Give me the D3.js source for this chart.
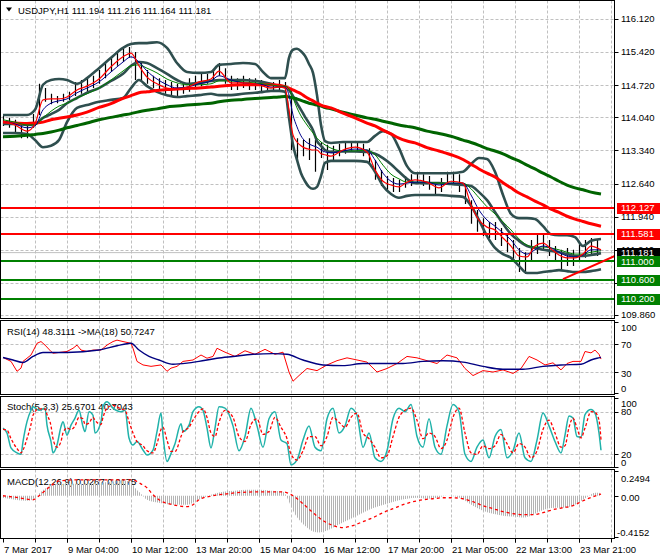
<!DOCTYPE html>
<html><head><meta charset="utf-8">
<script src="https://cdn.jsdelivr.net/npm/d3@7/dist/d3.min.js"></script>
<style>
html,body{margin:0;padding:0;background:#fff;}
svg{display:block;}
text{font-family:"Liberation Sans",Arial,sans-serif;font-size:9.5px;fill:#000;}
</style></head><body>
<svg id="chart" width="660" height="560"></svg>
<script>
// ---------------- DATA ----------------
const header = "USDJPY,H1  111.194 111.216 111.164 111.181";
const rsiTitle = "RSI(14) 48.3111  ->MA(18) 50.7247";
const stochTitle = "Stoch(5,3,3) 25.6701 40.7043";
const macdTitle = "MACD(12,26,9) 0.0267 0.0175";

const timeLabelIdx = [0,32,64,96,128,160,192,224,256,288];
const timeLabels = ["7 Mar 2017","9 Mar 04:00","10 Mar 12:00","13 Mar 20:00","15 Mar 04:00","16 Mar 12:00","17 Mar 20:00","21 Mar 05:00","22 Mar 13:00","23 Mar 21:00"];
const priceTicks = [116.12,115.42,114.72,114.04,113.34,112.64,111.94,111.24,110.54,109.86];
const priceTickText = ["116.120","115.420","114.720","114.040","113.340","112.640","111.940","111.240","110.540","109.860"];
const rsiLevels = [70,30];
const rsiTicks = [100,70,30,0];
const stochLevels = [80,20];
const stochTicks = [100,80,20,0];
const macdTicks = [0.2494,0,-0.4152];
const macdTickText = ["0.2494","0.00","-0.4152"];

const redLevels = [112.127,111.581];
const greenLevels = [111.000,110.600,110.200];
const bidPrice = 111.181;
const trendIdx = [280,307];
const trendVal = [110.62,111.13];

const sampleIdx=[0,6,12,16,20,24,28,32,37,42,48,54,60,64,68,72,77,82,87,92,98,104,108,114,120,126,130,134,138,141,143,145,147,149,151,153,155,157,159,161,164,170,176,182,186,190,194,198,202,206,212,218,224,230,234,238,242,246,250,254,258,262,266,270,274,278,282,286,290,294,299];
const ma200=[113.63,113.64,113.66,113.68,113.70,113.73,113.77,113.82,113.87,113.92,113.99,114.04,114.09,114.12,114.16,114.19,114.22,114.26,114.28,114.30,114.32,114.34,114.37,114.40,114.42,114.44,114.45,114.46,114.47,114.48,114.47,114.45,114.43,114.40,114.37,114.34,114.32,114.30,114.28,114.25,114.22,114.15,114.09,114.03,114.00,113.96,113.92,113.88,113.85,113.82,113.75,113.70,113.64,113.56,113.51,113.45,113.38,113.33,113.27,113.19,113.12,113.03,112.95,112.86,112.78,112.69,112.61,112.55,112.51,112.46,112.42];
const ma100=[113.94,113.92,113.91,113.92,113.94,113.99,114.02,114.05,114.09,114.15,114.25,114.33,114.44,114.50,114.56,114.58,114.61,114.63,114.64,114.65,114.66,114.68,114.70,114.72,114.73,114.73,114.73,114.73,114.72,114.69,114.66,114.62,114.58,114.54,114.48,114.43,114.39,114.34,114.30,114.27,114.24,114.13,114.03,113.92,113.86,113.77,113.69,113.60,113.54,113.50,113.40,113.33,113.25,113.15,113.05,112.95,112.86,112.78,112.66,112.55,112.44,112.36,112.27,112.19,112.10,112.03,111.95,111.89,111.84,111.79,111.74];
const maFast=[113.96,113.88,113.75,113.90,114.41,114.43,114.43,114.47,114.62,114.70,114.85,115.11,115.32,115.40,115.13,114.89,114.75,114.66,114.64,114.68,114.79,114.85,115.02,114.77,114.77,114.75,114.70,114.66,114.68,114.66,114.20,113.67,113.52,113.44,113.39,113.37,113.35,113.35,113.27,113.25,113.22,113.35,113.41,113.31,112.93,112.69,112.61,112.57,112.67,112.72,112.67,112.55,112.69,112.65,112.19,111.87,111.72,111.66,111.49,111.32,111.11,111.09,111.32,111.38,111.26,111.13,111.07,111.07,111.15,111.32,111.24];
const maMid=[113.96,113.90,113.82,113.86,114.20,114.34,114.39,114.43,114.56,114.66,114.79,115.00,115.21,115.32,115.21,115.02,114.85,114.73,114.66,114.68,114.75,114.81,114.92,114.83,114.77,114.75,114.73,114.68,114.68,114.68,114.51,114.09,113.84,113.65,113.54,113.48,113.44,113.41,113.35,113.31,113.29,113.33,113.37,113.35,113.14,112.86,112.69,112.63,112.65,112.67,112.67,112.61,112.65,112.65,112.40,112.08,111.87,111.74,111.60,111.45,111.24,111.15,111.24,111.32,111.28,111.19,111.11,111.09,111.13,111.24,111.24];
const maSlow=[113.99,113.94,113.88,113.88,114.03,114.17,114.28,114.34,114.45,114.54,114.66,114.83,115.02,115.13,115.15,115.08,114.98,114.85,114.77,114.73,114.73,114.75,114.81,114.81,114.79,114.77,114.75,114.73,114.70,114.70,114.64,114.45,114.24,114.07,113.94,113.82,113.71,113.60,113.52,113.46,113.39,113.33,113.33,113.35,113.25,113.03,112.84,112.74,112.67,112.67,112.67,112.65,112.65,112.65,112.53,112.34,112.15,112.00,111.83,111.66,111.47,111.34,111.30,111.30,111.28,111.24,111.19,111.15,111.15,111.19,111.22];
const bbUpper=[114.09,114.09,114.09,114.20,114.73,114.83,114.85,114.83,114.75,114.87,115.08,115.30,115.51,115.59,115.61,115.61,115.63,115.51,115.19,115.00,114.98,115.00,115.15,115.17,115.19,115.17,115.00,114.87,114.87,114.87,115.30,115.47,115.49,115.44,115.34,115.17,114.98,114.51,113.88,113.54,113.50,113.52,113.52,113.52,113.65,113.75,113.69,113.39,113.01,112.86,112.86,112.86,112.86,112.89,113.05,113.18,113.16,112.89,112.40,112.00,111.91,111.91,111.89,111.74,111.57,111.55,111.55,111.51,111.32,111.43,111.47];
const bbMiddle=[113.90,113.90,113.88,113.90,114.03,114.11,114.20,114.34,114.45,114.56,114.66,114.81,114.96,115.13,115.21,115.19,115.08,114.96,114.83,114.75,114.77,114.81,114.83,114.83,114.83,114.81,114.79,114.75,114.70,114.68,114.62,114.49,114.34,114.20,114.05,113.92,113.77,113.54,113.44,113.35,113.31,113.32,113.32,113.31,113.27,113.18,113.05,112.89,112.74,112.65,112.65,112.65,112.63,112.61,112.59,112.46,112.29,112.04,111.79,111.57,111.43,111.32,111.28,111.24,111.22,111.19,111.15,111.11,111.11,111.13,111.17];
const bbLower=[113.71,113.71,113.69,113.56,113.41,113.44,113.56,113.94,114.24,114.30,114.37,114.41,114.45,114.66,114.83,114.70,114.58,114.51,114.47,114.49,114.51,114.54,114.51,114.51,114.54,114.56,114.58,114.60,114.60,114.58,114.03,113.46,113.14,112.86,112.69,112.57,112.53,112.57,112.80,113.08,113.12,113.12,113.12,113.10,112.89,112.59,112.42,112.34,112.38,112.40,112.40,112.40,112.38,112.36,112.17,111.87,111.53,111.28,111.15,111.07,110.90,110.75,110.75,110.77,110.79,110.81,110.79,110.77,110.77,110.79,110.83];

const barIdx = d3.range(0,300,3);
const barHigh=[114.07,114.03,113.99,113.90,113.86,114.11,114.75,114.66,114.54,114.49,114.54,114.58,114.79,114.83,114.87,114.92,115.04,115.21,115.30,115.42,115.51,115.53,115.42,115.21,115.04,114.92,114.87,114.83,114.79,114.75,114.79,114.87,114.92,114.96,114.96,115.04,115.19,115.08,114.92,114.87,114.92,114.87,114.87,114.83,114.79,114.79,114.83,114.79,114.62,113.60,113.56,113.60,113.56,113.52,113.46,113.44,113.48,113.52,113.52,113.52,113.48,113.39,113.14,112.93,112.80,112.76,112.72,112.80,112.84,112.89,112.84,112.80,112.67,112.76,112.89,112.89,112.84,112.59,112.29,112.08,111.91,111.83,111.83,111.70,111.57,111.45,111.28,111.19,111.45,111.57,111.57,111.45,111.32,111.24,111.28,111.24,111.36,111.45,111.49,111.45];
const barLow=[113.86,113.82,113.73,113.60,113.60,113.82,114.09,114.37,114.32,114.34,114.37,114.41,114.49,114.54,114.58,114.66,114.75,114.87,115.00,115.13,115.21,115.30,114.83,114.79,114.75,114.66,114.62,114.54,114.49,114.49,114.54,114.58,114.66,114.70,114.75,114.83,114.92,114.75,114.62,114.62,114.66,114.62,114.62,114.58,114.58,114.62,114.62,114.58,113.35,113.14,113.22,113.14,112.89,113.18,112.93,113.10,113.22,113.27,113.31,113.31,113.22,113.05,112.72,112.59,112.51,112.46,112.46,112.55,112.59,112.63,112.59,112.51,112.38,112.46,112.63,112.63,112.46,112.21,111.79,111.62,111.53,111.49,111.45,111.32,111.19,110.98,110.77,110.73,110.98,111.15,111.24,111.11,110.98,110.81,110.90,110.90,110.98,111.07,111.15,111.11];

const rsiIdx=[0,4,7,9,10,14,17,19,21,24,25,32,35,37,39,42,45,49,52,55,57,60,64,65,67,70,74,79,82,84,87,90,95,99,102,105,107,111,116,121,126,131,136,140,143,145,148,152,157,162,167,172,177,182,187,192,197,202,207,212,217,222,227,231,235,240,245,250,255,259,263,267,271,275,279,282,285,289,291,294,296,298,299];
const rsiVal=[50.5,45,31,35.5,45,54,70.5,73,68,59,56.5,59,63.5,68,61,59,61,61,68,73,75,73,70.5,63.5,45,40,38,40,31,35.5,38,45,47,54,49.5,52,63.5,58,52,60,55,62,55,58,30,17,25,35,32,40,46,50,47,44,30,35,42,52,50,46,42,54,50,35,25,32,30,33,28,35,52,47,40,43,33,42,45,45,59,57,61,55,48.3];
const rsiMaIdx=[0,5,10,15,20,32,48,57,64,68,73,78,85,92,98,107,115,125,135,142,150,160,170,180,190,200,210,220,230,240,250,260,270,279,289,294,297,299];
const rsiMaVal=[50.5,47,43.5,52,57.5,57.5,61,67,70.5,61,52,47,41,42.5,45,49.5,52,55,56,55,47,40,39,42,42,42,45,46,44,38,34,34,38,40,41,47,49.5,50.7];

const stochIdx=[0,2,4,7,9,10,12,14,15,18,21,22,24,25,27,29,30,32,34,36,38,40,41,43,45,46,49,50,52,55,59,61,63,65,67,70,72,75,77,79,80,82,84,86,89,90,93,95,98,100,102,104,106,108,111,115,118,121,124,127,130,133,136,139,142,144,147,150,153,156,159,162,165,168,171,174,177,180,183,186,189,192,195,198,201,204,207,210,213,216,219,222,225,228,231,234,237,240,243,246,249,252,255,258,261,264,267,270,273,276,279,281,283,285,287,289,291,294,296,298,299];
const stochK=[57,50,29,22,20,38,66,82,87,82,85,61,38,22,33,59,66,47,61,71,82,59,52,80,75,50,66,87,94,85,80,82,43,33,38,26,19,26,52,78,47,10,21,35,63,52,61,80,87,82,57,29,57,87,85,60,25,45,85,60,30,70,80,40,35,5,12,40,60,30,25,70,85,50,60,85,75,30,50,15,10,25,70,85,80,90,45,30,70,30,20,60,90,80,20,10,30,40,15,45,55,15,25,50,15,10,40,78,60,38,22,47,74,71,45,44,76,83,78,50,25.7];
const stochD=[55,54,42,28,22,26,42,62,75,84,84,76,60,42,30,38,50,57,55,60,72,70,62,64,72,68,62,72,85,89,84,82,66,50,38,32,25,22,35,55,58,40,24,24,45,52,58,68,80,84,72,50,45,65,82,72,45,38,62,70,48,52,72,58,42,20,12,25,45,45,32,45,72,65,58,72,78,50,42,30,15,18,45,72,82,85,68,42,50,45,28,40,72,85,50,22,20,32,28,32,48,35,22,35,30,15,25,55,68,50,30,32,58,71,57,43,57,80,79,68,40.7];

const macdIdx=[0,6,12,16,18,21,24,28,34,40,48,54,60,64,66,69,72,78,85,92,98,104,110,116,122,128,134,140,143,145,148,152,155,158,162,167,172,177,182,187,192,197,202,207,212,217,222,227,231,235,240,245,250,255,260,264,268,272,276,280,285,290,293,296,299];
const macdVal=[-0.02,-0.04,-0.05,-0.03,0.02,0.07,0.10,0.12,0.12,0.12,0.13,0.14,0.15,0.14,0.08,0.02,-0.04,-0.07,-0.09,-0.09,-0.04,0.01,0.04,0.05,0.06,0.06,0.05,0.04,-0.06,-0.15,-0.24,-0.32,-0.36,-0.37,-0.35,-0.30,-0.25,-0.20,-0.15,-0.11,-0.08,-0.05,-0.03,-0.02,-0.03,-0.02,0.00,-0.01,-0.05,-0.10,-0.15,-0.18,-0.20,-0.21,-0.22,-0.20,-0.16,-0.13,-0.12,-0.12,-0.10,-0.04,0.00,0.03,0.027];
const sigIdx=[0,8,15,18,21,24,28,37,49,65,68,72,75,78,85,92,95,98,105,112,120,130,140,145,150,155,160,165,170,175,180,185,190,195,200,205,210,215,220,225,230,235,240,245,250,255,260,265,270,275,280,285,290,295,299];
const sigVal=[0.0,-0.02,-0.04,0.0,0.05,0.10,0.15,0.16,0.16,0.16,0.13,0.08,0.01,-0.04,-0.09,-0.11,-0.09,-0.04,0.0,0.02,0.035,0.04,0.04,0.0,-0.08,-0.17,-0.25,-0.30,-0.32,-0.30,-0.26,-0.22,-0.17,-0.13,-0.09,-0.06,-0.04,-0.03,-0.02,-0.02,-0.03,-0.06,-0.10,-0.13,-0.16,-0.18,-0.19,-0.19,-0.17,-0.14,-0.12,-0.10,-0.05,-0.01,0.0175];

// ---------------- LAYOUT ----------------
const svg = d3.select('#chart');
const defs = svg.append('defs');
const LEFT = 0.5, RIGHT = 614.5;
const P = {
  main:{t:0.5,b:318.5}, rsi:{t:320.5,b:394.5}, sto:{t:396.5,b:467.5}, macd:{t:469.5,b:538.5}
};
const x = d3.scaleLinear().domain([0,299]).range([3,601]);
const yP = d3.scaleLinear().domain([109.86,116.12]).range([315.1,19]);
const yR = d3.scaleLinear().domain([0,100]).range([393.3,322.4]);
const yS = d3.scaleLinear().domain([0,100]).range([468.5,397.5]);
const yM = d3.scaleLinear().domain([-0.4152,0.2494]).range([537,471]);
const gridIdx = d3.range(16,305,16);
const GRID = '#c0c0c0';

Object.entries(P).forEach(([k,p])=>{
  defs.append('clipPath').attr('id','clip-'+k).append('rect')
    .attr('x',LEFT).attr('y',p.t).attr('width',RIGHT-LEFT).attr('height',p.b-p.t);
});
const pat = defs.append('pattern').attr('id','hatch').attr('patternUnits','userSpaceOnUse')
  .attr('x',x(0)).attr('y',0).attr('width',x(1)-x(0)).attr('height',10);
pat.append('rect').attr('x',0).attr('y',0).attr('width',1).attr('height',10).attr('fill','#b4b4b4');

function panel(k){ return svg.append('g').attr('clip-path','url(#clip-'+k+')'); }
function vgrid(g,p){
  g.selectAll(null).data(gridIdx).join('line')
   .attr('x1',d=>Math.round(x(d))+0.5).attr('x2',d=>Math.round(x(d))+0.5)
   .attr('y1',p.t).attr('y2',p.b).attr('stroke',GRID).attr('stroke-dasharray','3,2');
}
function hgrid(g,vals,y){
  g.selectAll(null).data(vals).join('line')
   .attr('x1',LEFT).attr('x2',RIGHT).attr('y1',d=>Math.round(y(d))+0.5).attr('y2',d=>Math.round(y(d))+0.5)
   .attr('stroke',GRID).attr('stroke-dasharray','3,2');
}
function line(g,idx,vals,y,color,w,dash,curve){
  const data = idx.map((d,i)=>[d,vals[i]]);
  g.append('path').datum(data).attr('fill','none').attr('stroke',color).attr('stroke-width',w)
   .attr('stroke-linejoin','round').attr('stroke-dasharray',dash||null)
   .attr('d',d3.line().x(d=>x(d[0])).y(d=>y(d[1])).curve(curve||d3.curveMonotoneX));
}

// ---------- MAIN PANEL ----------
const gm = panel('main');
vgrid(gm,P.main);
hgrid(gm,priceTicks,yP);
gm.append('line').attr('x1',LEFT).attr('x2',RIGHT).attr('y1',yP(bidPrice)).attr('y2',yP(bidPrice)).attr('stroke','#c0c0c0');
gm.selectAll(null).data(barIdx).join('line')
  .attr('x1',d=>x(d)+0.5).attr('x2',d=>x(d)+0.5)
  .attr('y1',(d,i)=>yP(barHigh[i])).attr('y2',(d,i)=>yP(barLow[i]))
  .attr('stroke','#000').attr('stroke-width',1.2);
const BB='#2f4f4f';
line(gm,sampleIdx,bbUpper,yP,BB,2.6);
line(gm,sampleIdx,bbMiddle,yP,BB,2.6);
line(gm,sampleIdx,bbLower,yP,BB,2.6);
line(gm,sampleIdx,ma200,yP,'#006400',3);
line(gm,sampleIdx,ma100,yP,'#ff0000',3);
line(gm,sampleIdx,maSlow,yP,'#008000',1);
line(gm,sampleIdx,maMid,yP,'#00008b',1);
line(gm,sampleIdx,maFast,yP,'#ff0000',1.2);
gm.selectAll(null).data(redLevels).join('line').attr('x1',LEFT).attr('x2',RIGHT)
  .attr('y1',d=>Math.round(yP(d))).attr('y2',d=>Math.round(yP(d))).attr('stroke','#ff0000').attr('stroke-width',2);
gm.selectAll(null).data(greenLevels).join('line').attr('x1',LEFT).attr('x2',RIGHT)
  .attr('y1',d=>Math.round(yP(d))).attr('y2',d=>Math.round(yP(d))).attr('stroke','#008000').attr('stroke-width',2);
line(gm,trendIdx,trendVal,yP,'#ff0000',2,null,d3.curveLinear);
svg.append('path').attr('d',d3.line()([[6,7.5],[12,7.5],[9,11.5]])+'Z').attr('fill','#000');
svg.append('text').attr('x',18).attr('y',13.5).text(header);

// ---------- RSI ----------
const gr = panel('rsi');
vgrid(gr,P.rsi);
hgrid(gr,rsiLevels,yR);
gr.append('text').attr('x',7).attr('y',334.5).text(rsiTitle);
line(gr,rsiIdx,rsiVal,yR,'#ff0000',1,null,d3.curveLinear);
line(gr,rsiMaIdx,rsiMaVal,yR,'#000080',1.4);

// ---------- STOCH ----------
const gs = panel('sto');
vgrid(gs,P.sto);
hgrid(gs,stochLevels,yS);
gs.append('text').attr('x',7).attr('y',410).text(stochTitle);
line(gs,stochIdx,stochK,yS,'#20b2aa',1.5,null,d3.curveMonotoneX);
line(gs,stochIdx,stochD,yS,'#ff0000',1.3,'3,2',d3.curveMonotoneX);

// ---------- MACD ----------
const gd = panel('macd');
vgrid(gd,P.macd);
gd.append('text').attr('x',7).attr('y',484.5).text(macdTitle);
const macdData = macdIdx.map((d,i)=>[d,macdVal[i]]);
gd.append('path').datum(macdData).attr('fill','url(#hatch)')
  .attr('d',d3.area().x(d=>x(d[0])).y0(yM(0)).y1(d=>yM(d[1])).curve(d3.curveMonotoneX));
line(gd,sigIdx,sigVal,yM,'#ff0000',1.3,'3,3');

// ---------- FRAMES ----------
Object.values(P).forEach(p=>{
  svg.append('rect').attr('x',LEFT).attr('y',p.t).attr('width',RIGHT-LEFT).attr('height',p.b-p.t)
    .attr('fill','none').attr('stroke','#000').attr('stroke-width',1);
});

// ---------- RIGHT AXES ----------
const ax = svg.append('g');
function tick(y){ ax.append('line').attr('x1',RIGHT).attr('x2',RIGHT+4).attr('y1',Math.round(y)+0.5).attr('y2',Math.round(y)+0.5).attr('stroke','#000'); }
priceTicks.forEach((v,i)=>{ tick(yP(v)); ax.append('text').attr('x',621).attr('y',yP(v)).attr('dy','0.35em').text(priceTickText[i]); });
function box(v,fill,label){
  const yy=yP(v);
  ax.append('rect').attr('x',617).attr('y',Math.round(yy)-5).attr('width',43).attr('height',11).attr('fill',fill);
  ax.append('text').attr('x',621).attr('y',yy).attr('dy','0.35em').style('fill','#fff').text(label);
}
redLevels.forEach(v=>box(v,'#ff0000',v.toFixed(3)));
box(bidPrice,'#000000',bidPrice.toFixed(3));
greenLevels.forEach(v=>box(v,'#008000',v.toFixed(3)));

function subLabels(vals,y,p,texts,off,topPad,botPad){
  vals.forEach((v,i)=>{
    let yy=y(v)+off; yy=Math.max(p.t+topPad,Math.min(p.b-botPad,yy));
    tick(y(v)<p.t?p.t+1:(y(v)>p.b?p.b-1:y(v)));
    const t=texts?texts[i]:String(v);
    ax.append('text').attr('x',t.startsWith('-')?617:621).attr('y',yy).attr('dy','0.35em').text(t);
  });
}
subLabels(rsiTicks,yR,P.rsi,null,1.5,7,6);
subLabels(stochTicks,yS,P.sto,null,0,7,5);
subLabels(macdTicks,yM,P.macd,macdTickText,1.5,9,6);

// ---------- TIME AXIS ----------
const tg = svg.append('g');
tg.selectAll(null).data(gridIdx.concat(timeLabelIdx)).join('line')
  .attr('x1',d=>Math.round(x(d))+0.5).attr('x2',d=>Math.round(x(d))+0.5)
  .attr('y1',P.macd.b).attr('y2',P.macd.b+4).attr('stroke','#000');
tg.selectAll(null).data(timeLabelIdx).join('text')
  .attr('x',d=>x(d)+1).attr('y',553).text((d,i)=>timeLabels[i]);
</script></body></html>
